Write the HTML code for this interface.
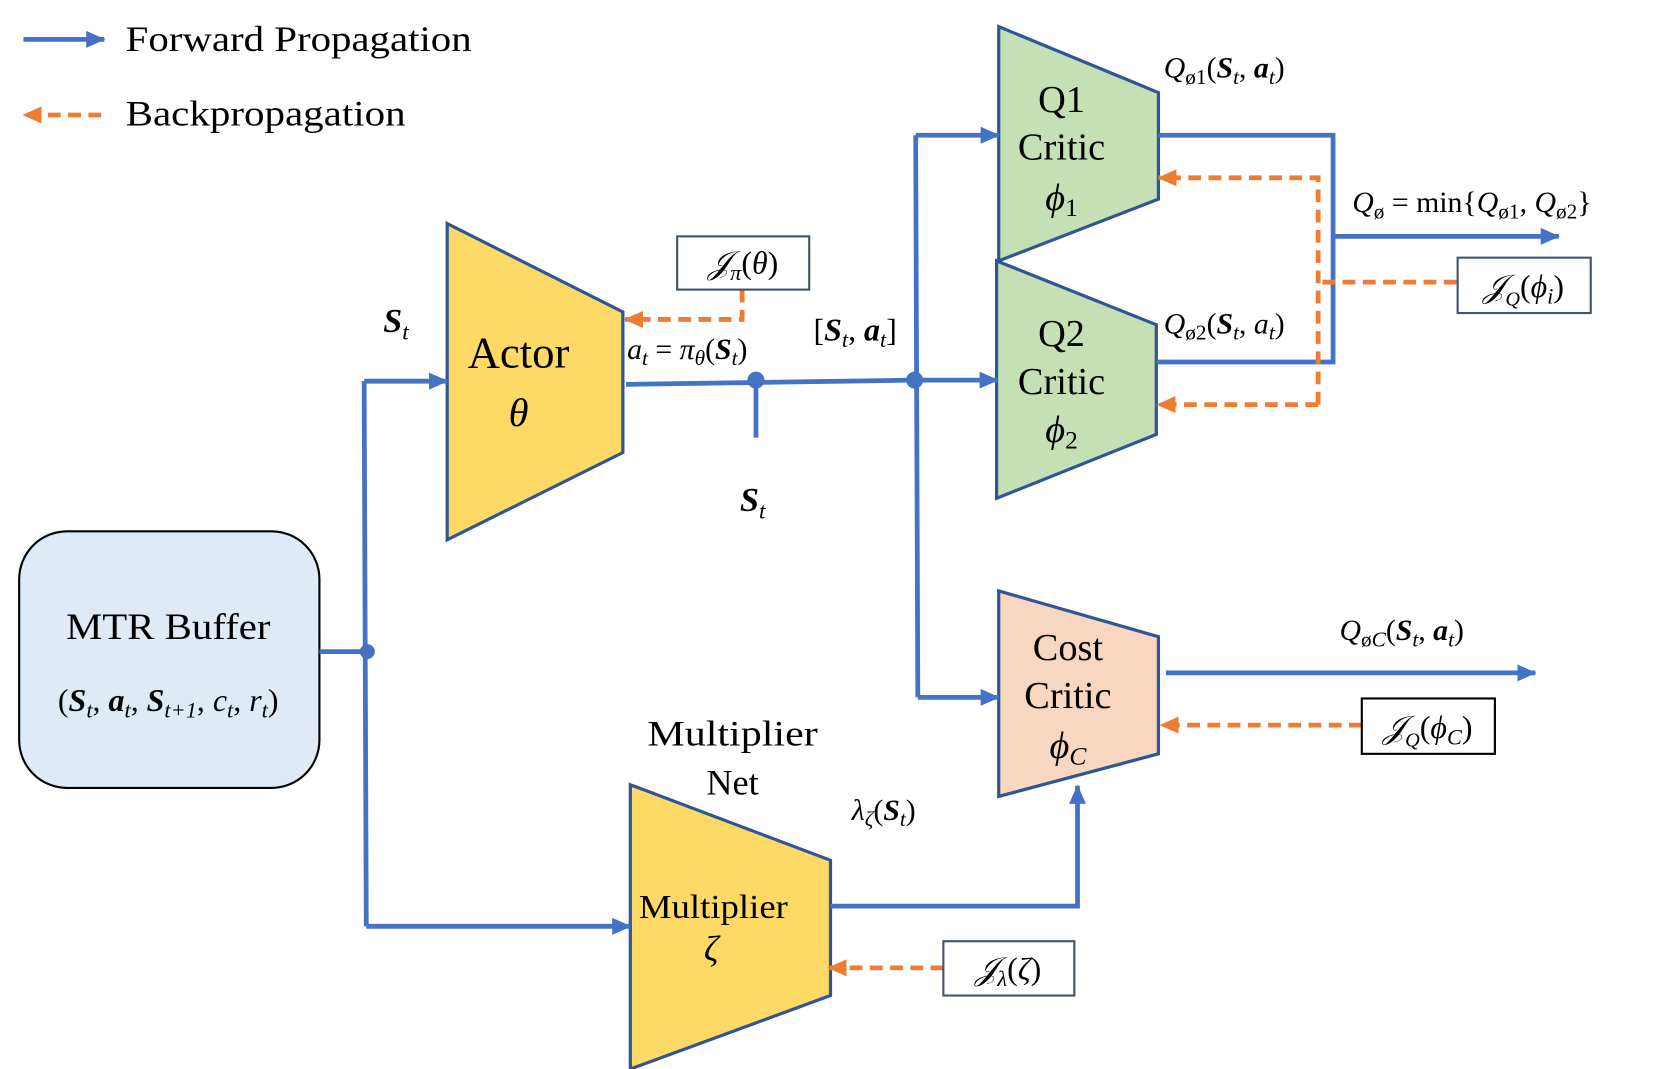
<!DOCTYPE html>
<html><head><meta charset="utf-8"><style>
html,body{margin:0;padding:0;background:#fff;}
svg{display:block;}
svg text{font-family:"Liberation Serif","Times New Roman","DejaVu Serif",serif;fill:#000;}
.m{font-style:italic;}
</style></head><body>
<svg width="1661" height="1069" viewBox="0 0 1560 1004" xmlns="http://www.w3.org/2000/svg" font-family="Liberation Serif, serif">
<defs>
<marker id="ab" markerWidth="18" markerHeight="16" refX="17" refY="8" orient="auto" markerUnits="userSpaceOnUse" viewBox="0 0 18 16"><path d="M0,0 L18,8 L0,16 z" fill="#4472C4"/></marker>
<marker id="ao" markerWidth="18" markerHeight="16" refX="17" refY="8" orient="auto" markerUnits="userSpaceOnUse" viewBox="0 0 18 16"><path d="M0,0 L18,8 L0,16 z" fill="#ED7D31"/></marker>
</defs>
<line x1="22" y1="37" x2="98" y2="37" stroke="#4472C4" stroke-width="4.5" marker-end="url(#ab)"/>
<line x1="95" y1="108" x2="22" y2="108" stroke="#ED7D31" stroke-width="4.5" stroke-dasharray="12,7" marker-end="url(#ao)"/>
<text x="118" y="48" font-size="34" textLength="325" lengthAdjust="spacingAndGlyphs">Forward Propagation</text>
<text x="118" y="118" font-size="34" textLength="263" lengthAdjust="spacingAndGlyphs">Backpropagation</text>

<rect x="18" y="499" width="282" height="241" rx="45" fill="#DEEBF7" stroke="#000" stroke-width="2"/>
<text x="158" y="600" font-size="35" text-anchor="middle" textLength="192" lengthAdjust="spacingAndGlyphs">MTR Buffer</text>
<text x="158" y="668" font-size="30" text-anchor="middle">(<tspan font-weight="bold" class="m">S</tspan><tspan class="m" font-size="21" dy="6">t</tspan><tspan dy="-6">, </tspan><tspan font-weight="bold" class="m">a</tspan><tspan class="m" font-size="21" dy="6">t</tspan><tspan dy="-6">, </tspan><tspan font-weight="bold" class="m">S</tspan><tspan class="m" font-size="21" dy="6">t+1</tspan><tspan dy="-6">, </tspan><tspan class="m">c</tspan><tspan class="m" font-size="21" dy="6">t</tspan><tspan dy="-6">, </tspan><tspan class="m">r</tspan><tspan class="m" font-size="21" dy="6">t</tspan><tspan dy="-6">)</tspan></text>

<polygon points="420,210 585,293 585,425 420,507" fill="#FFD966" stroke="#2F5597" stroke-width="3"/>
<text x="487" y="345" font-size="42" text-anchor="middle">Actor</text>
<text x="487" y="400" font-size="38" class="m" text-anchor="middle">θ</text>

<polygon points="938,25 1088,87 1088,187 938,245" fill="#C5E0B4" stroke="#2F5597" stroke-width="3"/>
<text x="997" y="105" font-size="36" text-anchor="middle">Q1</text>
<text x="997" y="150" font-size="36" text-anchor="middle">Critic</text>
<text x="997" y="197" font-size="36" class="m" text-anchor="middle">ϕ<tspan font-size="24" dy="6" font-style="normal">1</tspan></text>

<polygon points="936,245 1086,305 1086,408 936,468" fill="#C5E0B4" stroke="#2F5597" stroke-width="3"/>
<text x="997" y="325" font-size="36" text-anchor="middle">Q2</text>
<text x="997" y="370" font-size="36" text-anchor="middle">Critic</text>
<text x="997" y="415" font-size="36" class="m" text-anchor="middle">ϕ<tspan font-size="24" dy="6" font-style="normal">2</tspan></text>

<polygon points="938,555 1088,598 1088,708 938,748" fill="#F8D7C0" stroke="#2F5597" stroke-width="3"/>
<text x="1003" y="620" font-size="36" text-anchor="middle">Cost</text>
<text x="1003" y="665" font-size="36" text-anchor="middle">Critic</text>
<text x="1003" y="712" font-size="36" class="m" text-anchor="middle">ϕ<tspan font-size="24" dy="6">C</tspan></text>

<polygon points="592,737 780,808 780,935 592,1004" fill="#FFD966" stroke="#2F5597" stroke-width="3"/>
<text x="670" y="862" font-size="32" text-anchor="middle" textLength="140" lengthAdjust="spacingAndGlyphs">Multiplier</text>
<text x="668" y="902" font-size="34" class="m" text-anchor="middle">ζ</text>
<text x="688" y="700" font-size="34" text-anchor="middle" textLength="160" lengthAdjust="spacingAndGlyphs">Multiplier</text>
<text x="688" y="746" font-size="34" text-anchor="middle">Net</text>

<g stroke="#4472C4" stroke-width="4.5" fill="none">
<line x1="300" y1="612" x2="345" y2="612"/>
<line x1="342" y1="358" x2="344" y2="870"/>
<line x1="342" y1="358" x2="420" y2="358" marker-end="url(#ab)"/>
<line x1="344" y1="870" x2="592" y2="870" marker-end="url(#ab)"/>
<line x1="588" y1="361" x2="858" y2="357"/>
<line x1="710" y1="357" x2="710" y2="411"/>
<line x1="860" y1="127" x2="862" y2="655"/>
<line x1="860" y1="127" x2="938" y2="127" marker-end="url(#ab)"/>
<line x1="858" y1="357" x2="937" y2="357" marker-end="url(#ab)"/>
<line x1="862" y1="655" x2="938" y2="655" marker-end="url(#ab)"/>
<polyline points="1088,127 1252,127 1252,340 1086,340"/>
<line x1="1252" y1="222" x2="1464" y2="222" marker-end="url(#ab)"/>
<line x1="1095" y1="632" x2="1442" y2="632" marker-end="url(#ab)"/>
<polyline points="780,851 1012,851 1012,738" marker-end="url(#ab)"/>
</g>
<circle cx="345" cy="612" r="7" fill="#4472C4"/>
<circle cx="710" cy="357" r="8" fill="#4472C4"/>
<circle cx="859" cy="357" r="8" fill="#4472C4"/>

<g stroke="#ED7D31" stroke-width="4.5" fill="none" stroke-dasharray="12,7">
<polyline points="697,272 697,300 587,300" marker-end="url(#ao)"/>
<line x1="1368" y1="265" x2="1238" y2="265"/>
<polyline points="1238,380 1238,167 1088,167" marker-end="url(#ao)"/>
<line x1="1238" y1="380" x2="1087" y2="380" marker-end="url(#ao)"/>
<line x1="1279" y1="681" x2="1090" y2="681" marker-end="url(#ao)"/>
<line x1="886" y1="909" x2="778" y2="909" marker-end="url(#ao)"/>
</g>

<g fill="#fff" stroke="#44546A" stroke-width="2">
<rect x="636" y="222" width="124" height="50"/>
<rect x="1369" y="242" width="125" height="52"/>
<rect x="1279" y="656" width="125" height="52" stroke="#000"/>
<rect x="886" y="884" width="123" height="51"/>
</g>
<text x="698" y="257" font-size="30" text-anchor="middle"><tspan class="m">𝒥</tspan><tspan class="m" font-size="21" dy="6">π</tspan><tspan dy="-6">(</tspan><tspan class="m">θ</tspan>)</text>
<text x="1431" y="279" font-size="30" text-anchor="middle"><tspan class="m">𝒥</tspan><tspan class="m" font-size="19" dy="8">Q</tspan><tspan dy="-8">(</tspan><tspan class="m">ϕ</tspan><tspan class="m" font-size="21" dy="6">i</tspan><tspan dy="-6">)</tspan></text>
<text x="1341" y="693" font-size="30" text-anchor="middle"><tspan class="m">𝒥</tspan><tspan class="m" font-size="19" dy="8">Q</tspan><tspan dy="-8">(</tspan><tspan class="m">ϕ</tspan><tspan class="m" font-size="21" dy="6">C</tspan><tspan dy="-6">)</tspan></text>
<text x="947" y="920" font-size="30" text-anchor="middle"><tspan class="m">𝒥</tspan><tspan class="m" font-size="21" dy="6">λ</tspan><tspan dy="-6">(</tspan><tspan class="m">ζ</tspan>)</text>

<text x="360" y="312" font-size="32" font-weight="bold" class="m">S<tspan font-size="22" dy="7" font-weight="normal">t</tspan></text>
<text x="695" y="480" font-size="32" font-weight="bold" class="m">S<tspan font-size="22" dy="7" font-weight="normal">t</tspan></text>
<text x="589" y="337" font-size="28"><tspan class="m">a</tspan><tspan class="m" font-size="20" dy="6">t</tspan><tspan dy="-6"> = </tspan><tspan class="m">π</tspan><tspan class="m" font-size="20" dy="6">θ</tspan><tspan dy="-6">(</tspan><tspan class="m" font-weight="bold">S</tspan><tspan class="m" font-size="20" dy="6">t</tspan><tspan dy="-6">)</tspan></text>
<text x="764" y="320" font-size="30">[<tspan class="m" font-weight="bold">S</tspan><tspan class="m" font-size="21" dy="6">t</tspan><tspan dy="-6">, </tspan><tspan class="m" font-weight="bold">a</tspan><tspan class="m" font-size="21" dy="6">t</tspan><tspan dy="-6">]</tspan></text>
<text x="1093" y="73" font-size="28"><tspan class="m">Q</tspan><tspan font-size="20" dy="6">ø1</tspan><tspan dy="-6">(</tspan><tspan class="m" font-weight="bold">S</tspan><tspan class="m" font-size="20" dy="6">t</tspan><tspan dy="-6">, </tspan><tspan class="m" font-weight="bold">a</tspan><tspan class="m" font-size="20" dy="6">t</tspan><tspan dy="-6">)</tspan></text>
<text x="1093" y="313" font-size="28"><tspan class="m">Q</tspan><tspan font-size="20" dy="6">ø2</tspan><tspan dy="-6">(</tspan><tspan class="m" font-weight="bold">S</tspan><tspan class="m" font-size="20" dy="6">t</tspan><tspan dy="-6">, </tspan><tspan class="m">a</tspan><tspan class="m" font-size="20" dy="6">t</tspan><tspan dy="-6">)</tspan></text>
<text x="1270" y="199" font-size="28"><tspan class="m">Q</tspan><tspan font-size="20" dy="6">ø</tspan><tspan dy="-6"> = min{</tspan><tspan class="m">Q</tspan><tspan font-size="20" dy="6">ø1</tspan><tspan dy="-6">,   </tspan><tspan class="m">Q</tspan><tspan font-size="20" dy="6">ø2</tspan><tspan dy="-6">}</tspan></text>
<text x="1258" y="601" font-size="28"><tspan class="m">Q</tspan><tspan font-size="20" dy="6">ø<tspan class="m">C</tspan></tspan><tspan dy="-6">(</tspan><tspan class="m" font-weight="bold">S</tspan><tspan class="m" font-size="20" dy="6">t</tspan><tspan dy="-6">, </tspan><tspan class="m" font-weight="bold">a</tspan><tspan class="m" font-size="20" dy="6">t</tspan><tspan dy="-6">)</tspan></text>
<text x="800" y="770" font-size="28"><tspan class="m">λ</tspan><tspan class="m" font-size="20" dy="6">ζ</tspan><tspan dy="-6">(</tspan><tspan class="m" font-weight="bold">S</tspan><tspan class="m" font-size="20" dy="6">t</tspan><tspan dy="-6">)</tspan></text>
</svg>
</body></html>
